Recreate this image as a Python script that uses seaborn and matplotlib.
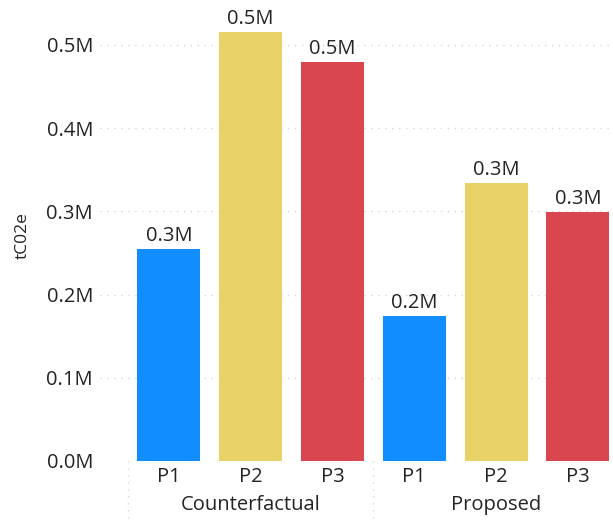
import matplotlib
matplotlib.use("Agg")
import matplotlib.pyplot as plt
import seaborn as sns
import pandas as pd

# Emissions per project phase, in tCO2e
scenarios = ["Counterfactual", "Proposed"]
phases = ["P1", "P2", "P3"]
counterfactual = [254800, 515600, 479600]
proposed = [174300, 334100, 299300]
phase_colors = {"P1": "#118DFF", "P2": "#E8D166", "P3": "#D9464F"}

rows = []
for scen, vals in zip(scenarios, [counterfactual, proposed]):
    for ph, v in zip(phases, vals):
        rows.append({"scenario": scen, "phase": ph, "key": f"{scen} {ph}", "value": v})
df = pd.DataFrame(rows)

sns.set_theme(style="white")
plt.rcParams["font.family"] = ["Open Sans", "DejaVu Sans"]

W, H = 613, 524
fig = plt.figure(figsize=(W / 100, H / 100), dpi=100)
left_px, right_px, top_px, bottom_px = 100, 613, 10, 461
ax = fig.add_axes([left_px / W, 1 - bottom_px / H, (right_px - left_px) / W, (bottom_px - top_px) / H])

sns.barplot(data=df, x="key", y="value", hue="phase", palette=phase_colors,
            order=df["key"], dodge=False, width=0.77, legend=False, ax=ax,
            saturation=1, linewidth=0)

px_per_unit = 81.8
ax.set_xlim(-0.5 - (128 - left_px) / px_per_unit, -0.5 + (right_px - 128) / px_per_unit)
ax.set_ylim(0, 542000)

text_color = "#252423"
fs = 14.5
ax.set_yticks([0, 100000, 200000, 300000, 400000, 500000])
ax.set_yticklabels([f"{t/1e6:.1f}M" for t in ax.get_yticks()], fontsize=fs, color=text_color)
ax.tick_params(axis="y", length=0, pad=5)
ax.grid(axis="y", color="#D6D6D6", linestyle=(0, (1, 4)), linewidth=1)
ax.set_axisbelow(True)

ax.set_xticks(range(len(df)))
ax.set_xticklabels(df["phase"], fontsize=fs, color=text_color)
ax.tick_params(axis="x", length=0, pad=4)
ax.set_xlabel("")
ax.set_ylabel("tC02e", fontsize=12.5, color=text_color)
ax.yaxis.set_label_coords((31 - left_px) / (right_px - left_px), 0.5)

for s in ax.spines.values():
    s.set_visible(False)

# value labels above bars
for i, v in enumerate(df["value"]):
    ax.text(i, v + 3500, f"{v/1e6:.1f}M", ha="center", va="bottom",
            fontsize=fs, color=text_color)

# scenario group labels and separators below the axis
trans = ax.get_xaxis_transform()
for g, scen in enumerate(scenarios):
    center = g * 3 + 1
    ax.text(center, -0.097, scen, transform=trans, ha="center", va="center",
            fontsize=fs, color=text_color)
for xsep in [-0.5, 2.5, 5.5]:
    ax.plot([xsep, xsep], [0, -0.14], transform=trans, clip_on=False,
            color="#D6D6D6", linestyle=(0, (1, 4)), linewidth=1)

fig.savefig("out.png", dpi=100)
